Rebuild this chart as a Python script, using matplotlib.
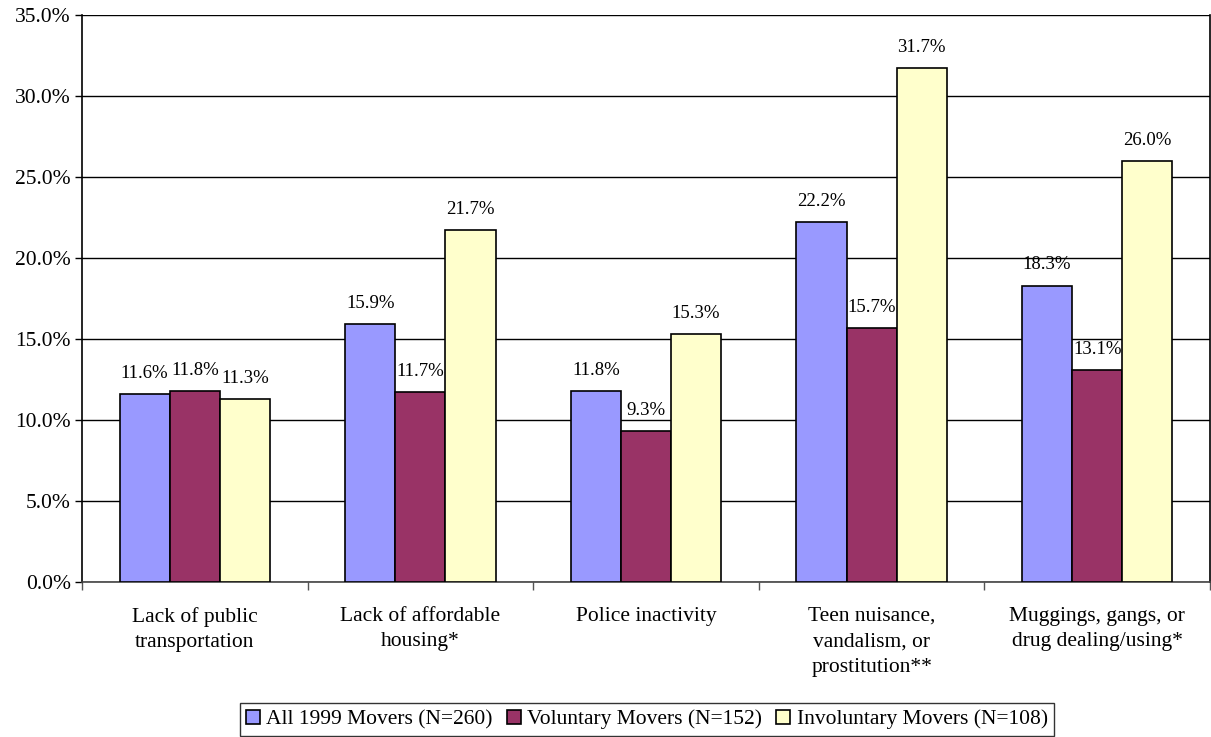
import matplotlib
matplotlib.use("Agg")
import matplotlib.pyplot as plt
import numpy as np
from matplotlib.ticker import FuncFormatter, FixedLocator

categories = ["Lack of public\ntransportation", "Lack of affordable\nhousing*",
              "Police inactivity", "Teen nuisance,\nvandalism, or\nprostitution**",
              "Muggings, gangs, or\ndrug dealing/using*"]
series_names = ["All 1999 Movers (N=260)", "Voluntary Movers (N=152)", "Involuntary Movers (N=108)"]
all_movers = [11.6, 15.9, 11.8, 22.2, 18.3]
voluntary = [11.8, 11.7, 9.3, 15.7, 13.1]
involuntary = [11.3, 21.7, 15.3, 31.7, 26.0]
colors = ["#9999FF", "#993366", "#FFFFCC"]

plt.rcParams['font.family'] = ['Liberation Serif', 'DejaVu Serif']

fig = plt.figure(figsize=(12.11, 7.37), dpi=100)
ax = fig.add_axes([82/1211, 1-582/737, (1210-82)/1211, (582-15)/737])

x = np.arange(len(categories))
w = 0.222
for i, (vals, c, name) in enumerate(zip([all_movers, voluntary, involuntary], colors, series_names)):
    pos = x + (i - 1) * w
    ax.bar(pos, vals, width=w, color=c, edgecolor="black", linewidth=1.2, label=name, zorder=3)
    for p, v in zip(pos, vals):
        ax.text(p, v + 0.75, f"{v:.1f}%", ha="center", va="bottom", fontsize=13.5, zorder=4)

ax.set_xlim(-0.5, len(categories) - 0.5)
ax.set_ylim(0, 35)
ax.set_yticks(np.arange(0, 35.1, 5))
ax.yaxis.set_major_formatter(FuncFormatter(lambda v, p: f"{v:.1f}%"))
ax.yaxis.grid(True, color="black", linewidth=1.0, zorder=0)
ax.set_axisbelow(True)
ax.tick_params(axis="y", labelsize=15.5, length=5, width=1, direction="out", pad=3)

ax.set_xticks(x)
ax.set_xticklabels(categories, fontsize=15.5, linespacing=1.45)
ax.tick_params(axis="x", length=0, pad=18)
ax.xaxis.set_minor_locator(FixedLocator(np.arange(-0.5, len(categories), 1.0)))
ax.tick_params(axis="x", which="minor", length=6, width=1, color="#555555")

for s in ["left", "right", "bottom"]:
    ax.spines[s].set_color("black")
    ax.spines[s].set_linewidth(1.2)
ax.spines["bottom"].set_color("#444444")
ax.spines["top"].set_visible(False)

leg = fig.legend(loc="lower center", bbox_to_anchor=(647/1211, 0.0015), ncol=3, fontsize=15.5,
                 frameon=True, fancybox=False, edgecolor="black", handlelength=0.65,
                 handleheight=0.65, handletextpad=0.3, columnspacing=0.65,
                 borderpad=0.3, borderaxespad=0)
leg.get_frame().set_linewidth(1.0)

fig.savefig("out.png", dpi=100)
